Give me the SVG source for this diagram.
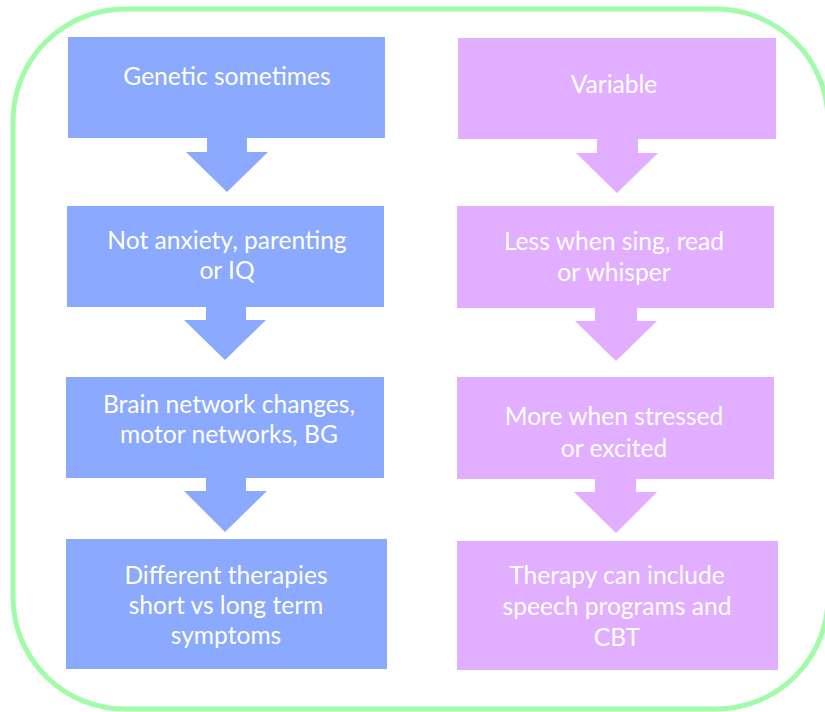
<svg xmlns="http://www.w3.org/2000/svg" width="825" height="712" viewBox="0 0 825 712">
  <style>
    .frame { fill: none; stroke: #a0fca8; stroke-width: 5; }
    .blue { fill: #8aa9ff; }
    .purple { fill: #e2aeff; }
    .label { font-family: "Lato", "Open Sans", "Liberation Sans", sans-serif; font-size: 24.6px; fill: #ffffff; text-anchor: middle; }
  </style>
  <rect width="825" height="712" fill="#ffffff"/>
  <!-- outer rounded frame -->
  <rect class="frame" x="13" y="9" width="815" height="700" rx="112" ry="112"/>

  <!-- connectors: block arrows between steps -->
  <g id="connectors">
    <polygon class="blue" points="207,138 247,138 247,152 268,152 227,192 186,152 207,152"/>
    <polygon class="blue" points="206,307 246,307 246,320 266,320 225,360 184,320 206,320"/>
    <polygon class="blue" points="206,478 246,478 246,491 267,491 225,532 184,491 206,491"/>
    <polygon class="purple" points="597,139 638,139 638,153 658,153 617,193 576,153 597,153"/>
    <polygon class="purple" points="595,308 637,308 637,321 657,321 616,361 575,321 595,321"/>
    <polygon class="purple" points="595,479 636,479 636,492 657,492 616,533 574,492 595,492"/>
  </g>

  <!-- left column -->
  <g id="genetic">
    <rect class="blue" x="68" y="37" width="317" height="101"/>
    <text class="label" x="227" y="85">Genetic sometimes</text>
  </g>
  <g id="not-anxiety">
    <rect class="blue" x="67" y="206" width="317" height="101"/>
    <text class="label" x="227" y="249">Not anxiety, parenting</text>
    <text class="label" x="227" y="279">or IQ</text>
  </g>
  <g id="brain-network">
    <rect class="blue" x="66" y="377" width="318" height="101"/>
    <text class="label" x="229" y="413">Brain network changes,</text>
    <text class="label" x="229" y="443">motor networks, BG</text>
  </g>
  <g id="therapies">
    <rect class="blue" x="66" y="539" width="321" height="130"/>
    <text class="label" x="226" y="584">Different therapies</text>
    <text class="label" x="226" y="614">short vs long term</text>
    <text class="label" x="226" y="644">symptoms</text>
  </g>

  <!-- right column -->
  <g id="variable">
    <rect class="purple" x="458" y="38" width="318" height="101"/>
    <text class="label" x="614" y="93">Variable</text>
  </g>
  <g id="less-when">
    <rect class="purple" x="457" y="206" width="317" height="102"/>
    <text class="label" x="614" y="250">Less when sing, read</text>
    <text class="label" x="614" y="281">or whisper</text>
  </g>
  <g id="more-when">
    <rect class="purple" x="457" y="377" width="317" height="102"/>
    <text class="label" x="614" y="425">More when stressed</text>
    <text class="label" x="614" y="457">or excited</text>
  </g>
  <g id="therapy-include">
    <rect class="purple" x="457" y="541" width="321" height="129"/>
    <text class="label" x="617" y="584">Therapy can include</text>
    <text class="label" x="617" y="615">speech programs and</text>
    <text class="label" x="617" y="646">CBT</text>
  </g>
</svg>
